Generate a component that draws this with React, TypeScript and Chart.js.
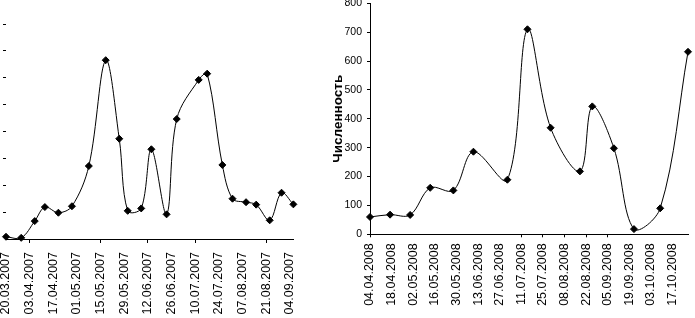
import React, { useEffect, useRef } from "react";
import { Chart, registerables } from "chart.js";

Chart.register(...registerables);

// ---------- Data ----------
const leftTickLabels = [
  "20.03.2007", "03.04.2007", "17.04.2007", "01.05.2007", "15.05.2007",
  "29.05.2007", "12.06.2007", "26.06.2007", "10.07.2007", "24.07.2007",
  "07.08.2007", "21.08.2007", "04.09.2007",
];
const leftDates = [
  "20.03.2007", "29.03.2007", "06.04.2007", "12.04.2007", "20.04.2007",
  "28.04.2007", "08.05.2007", "18.05.2007", "26.05.2007", "31.05.2007",
  "08.06.2007", "14.06.2007", "23.06.2007", "29.06.2007", "12.07.2007",
  "17.07.2007", "26.07.2007", "01.08.2007", "09.08.2007", "15.08.2007",
  "23.08.2007", "30.08.2007", "06.09.2007",
];
const leftValues = [
  12, 8, 70, 122, 101, 125, 274, 666, 375, 108, 117, 336, 95, 448, 593, 616,
  278, 153, 140, 131, 73, 175, 132,
];

const rightTickLabels = [
  "04.04.2008", "18.04.2008", "02.05.2008", "16.05.2008", "30.05.2008",
  "13.06.2008", "27.06.2008", "11.07.2008", "25.07.2008", "08.08.2008",
  "22.08.2008", "05.09.2008", "19.09.2008", "03.10.2008", "17.10.2008",
];
const rightDates = [
  "04.04.2008", "17.04.2008", "30.04.2008", "13.05.2008", "28.05.2008",
  "10.06.2008", "02.07.2008", "15.07.2008", "30.07.2008", "18.08.2008",
  "26.08.2008", "09.09.2008", "22.09.2008", "09.10.2008", "27.10.2008",
];
const rightValues = [
  60, 68, 67, 161, 152, 286, 189, 710, 369, 218, 443, 298, 18, 90, 632,
];
const rightYTitle = "Численность";

const yMin = 0;
const yMax = 800;
const yStep = 100;

// tick marks that are visible in the picture
const leftVisibleTickMarks = [1, 4, 6, 8, 11];
const rightVisibleTickMarks = [0, 7, 8, 9, 10, 11];

// ---------- helpers ----------
const DAY = 86400000;
function parseDate(s: string): number {
  const [d, m, y] = s.split(".").map(Number);
  return Date.UTC(y, m - 1, d);
}
function dayOffset(s: string, base: string): number {
  return Math.round((parseDate(s) - parseDate(base)) / DAY);
}

const FAMILY = "'Liberation Sans', Arial, sans-serif";
const TICK_FONT = { family: FAMILY, size: 12.5 };
const Y_FONT = { family: FAMILY, size: 10.5 };

function makeConfig(opts: {
  tickLabels: string[];
  dates: string[];
  values: number[];
  visibleMarks: number[];
  showY: boolean;
  yTitle?: string;
  yWidth?: number;
  padding: any;
  xTickPadding: number;
}): any {
  const base = opts.tickLabels[0];
  const points = opts.dates.map((d, i) => ({ x: dayOffset(d, base), y: opts.values[i] }));
  const tickValues = opts.tickLabels.map((l) => dayOffset(l, base));
  const xMax = points[points.length - 1].x;
  const yScale: any = {
    type: "linear",
    min: yMin,
    max: yMax,
    ticks: {
      stepSize: yStep,
      display: opts.showY,
      padding: 5,
      color: "#000",
      font: Y_FONT,
    },
    grid: {
      drawOnChartArea: false,
      drawTicks: true,
      tickLength: 3,
      color: "#000",
      tickColor: (ctx: any) =>
        opts.showY || ctx.index > 0 ? "#000" : "rgba(0,0,0,0)",
    },
    border: { display: opts.showY, color: "#000", width: 1 },
    title: opts.yTitle
      ? {
          display: true,
          text: opts.yTitle,
          color: "#000",
          font: { family: FAMILY, size: 13.5, weight: "bold" },
          padding: { top: 3.9, bottom: 0 },
        }
      : { display: false },
  };
  if (opts.yWidth) {
    yScale.afterFit = (scale: any) => {
      scale.width = opts.yWidth;
    };
  }
  return {
    type: "line",
    data: {
      datasets: [
        {
          data: points,
          borderColor: "#000",
          borderWidth: 1,
          tension: 0.35,
          fill: false,
          pointStyle: "rectRot",
          pointRadius: 3.5,
          pointBackgroundColor: "#000",
          pointBorderColor: "#000",
          pointBorderWidth: 1,
          clip: false,
        },
      ],
    },
    options: {
      responsive: false,
      animation: false,
      devicePixelRatio: 1,
      layout: { padding: opts.padding },
      plugins: {
        legend: { display: false },
        tooltip: { enabled: false },
        title: { display: false },
      },
      scales: {
        x: {
          type: "linear",
          min: 0,
          max: xMax,
          afterBuildTicks: (scale: any) => {
            scale.ticks = tickValues.map((v) => ({ value: v }));
          },
          ticks: {
            autoSkip: false,
            minRotation: 90,
            maxRotation: 90,
            padding: opts.xTickPadding,
            color: "#000",
            font: TICK_FONT,
            callback: (_v: any, i: number) => opts.tickLabels[i],
          },
          grid: {
            drawOnChartArea: false,
            drawTicks: true,
            tickLength: 3,
            color: "#000",
            tickColor: (ctx: any) =>
              opts.visibleMarks.includes(ctx.index) ? "#000" : "rgba(0,0,0,0)",
          },
          border: { display: true, color: "#000", width: 1 },
        },
        y: yScale,
      },
    },
  };
}

function ChartCanvas(props: { config: any; style: React.CSSProperties; width: number; height: number }) {
  const ref = useRef<HTMLCanvasElement | null>(null);
  useEffect(() => {
    if (!ref.current) return;
    const chart = new Chart(ref.current, props.config);
    return () => chart.destroy();
  }, []);
  return (
    <canvas
      ref={ref}
      width={props.width}
      height={props.height}
      style={{ position: "absolute", width: props.width, height: props.height, ...props.style }}
    />
  );
}

export default function App() {
  const leftConfig = makeConfig({
    tickLabels: leftTickLabels,
    dates: leftDates,
    values: leftValues,
    visibleMarks: leftVisibleTickMarks,
    showY: false,
    padding: { left: 0, right: 0, top: 24, bottom: 0.44 },
    xTickPadding: 9,
  });
  const rightConfig = makeConfig({
    tickLabels: rightTickLabels,
    dates: rightDates,
    values: rightValues,
    visibleMarks: rightVisibleTickMarks,
    showY: true,
    yTitle: rightYTitle,
    yWidth: 44,
    padding: { left: 0, right: 7, top: 0, bottom: 6.14 },
    xTickPadding: 6,
  });
  return (
    <div
      style={{
        position: "absolute",
        left: 0,
        top: 0,
        width: 695,
        height: 318,
        overflow: "hidden",
        background: "#fff",
      }}
    >
      <ChartCanvas config={leftConfig} width={317} height={324} style={{ left: -3, top: 0 }} />
      <ChartCanvas config={rightConfig} width={369} height={326} style={{ left: 326, top: -8 }} />
    </div>
  );
}
